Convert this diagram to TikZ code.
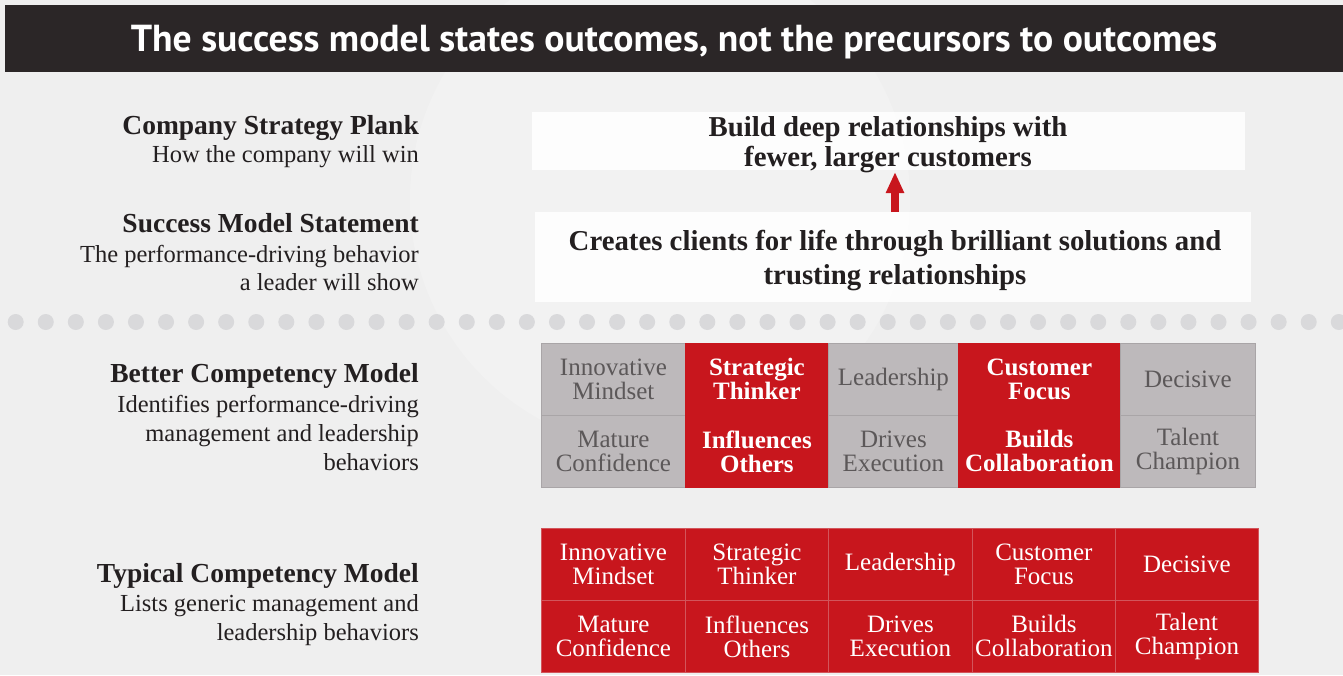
\documentclass[tikz,border=0pt]{standalone}
\usepackage{fontspec}
\setmainfont{Liberation Serif}
\newfontfamily\headfont{PT Sans}
\usetikzlibrary{arrows.meta}

\definecolor{barbg}{HTML}{2B2627}
\definecolor{pagebg}{HTML}{EFEFEF}
\definecolor{inktext}{HTML}{231F20}
\definecolor{dotgray}{HTML}{D9D9DB}
\definecolor{cellred}{HTML}{C8161D}
\definecolor{cellredline}{HTML}{D2555B}
\definecolor{cellgray}{HTML}{BDB9BB}
\definecolor{cellgrayline}{HTML}{A9A5A7}
\definecolor{celltext}{HTML}{5C5859}

\tikzset{
  lefthead/.style={anchor=base east, inner sep=0, text=inktext,
    font=\bfseries\fontsize{27.5}{30}\selectfont},
  leftsub/.style={anchor=base east, inner sep=0, text=inktext,
    font=\fontsize{24.5}{28}\selectfont},
  bigline/.style={anchor=base, inner sep=0, text=inktext,
    font=\bfseries\fontsize{28.8}{32}\selectfont},
  band/.style={fill=white, fill opacity=0.85, draw=none, inner sep=0, anchor=north west},
  cellbox/.style={anchor=north west, minimum height=72pt, inner sep=0, align=center,
    font=\fontsize{25}{24}\selectfont},
  graycell/.style={cellbox, fill=cellgray, draw=cellgrayline, line width=0.8pt, text=celltext},
  keycell/.style={cellbox, fill=cellred, draw=cellred, line width=0.8pt, text=white,
    font=\bfseries\fontsize{25}{24}\selectfont},
  redcell/.style={cellbox, fill=cellred, draw=cellredline, line width=0.8pt, text=white},
  dot/.style={circle, fill=dotgray, minimum size=16pt, inner sep=0},
}

\begin{document}
\begin{tikzpicture}[x=1pt, y=-1pt]
\useasboundingbox (0,0) rectangle (1343,675);
\fill[pagebg] (0,0) rectangle (1343,675);
\fill[white, opacity=0.2] (660,200) circle (250);

% title bar
\fill[barbg] (5,5) rectangle (1343,72);
\node[text=white, inner sep=0, font=\headfont\bfseries\fontsize{37.6}{42}\selectfont]
  (title) at (674,42) {The success model states outcomes, not the precursors to outcomes};

% white bands behind the two statements
\node[band, minimum width=713pt, minimum height=58pt] (pband) at (532,112) {};
\node[band, minimum width=716pt, minimum height=90pt] (sband) at (535,212) {};

% left column labels
\node[lefthead] (l1a) at (419,134) {Company Strategy Plank};
\node[leftsub]  (l1b) at (419,162) {How the company will win};
\node[lefthead] (l2a) at (419,232) {Success Model Statement};
\node[leftsub]  (l2b) at (419,262) {The performance-driving behavior};
\node[leftsub]  (l2c) at (419,290) {a leader will show};
\node[lefthead] (l3a) at (419,382) {Better Competency Model};
\node[leftsub]  (l3b) at (419,412) {Identifies performance-driving};
\node[leftsub]  (l3c) at (419,441) {management and leadership};
\node[leftsub]  (l3d) at (419,470) {behaviors};
\node[lefthead] (l4a) at (419,582) {Typical Competency Model};
\node[leftsub]  (l4b) at (419,611) {Lists generic management and};
\node[leftsub]  (l4c) at (419,640) {leadership behaviors};

% statements
\node[bigline] (plank1) at (888,136) {Build deep relationships with};
\node[bigline] (plank2) at (888,166) {fewer, larger customers};
\node[bigline] (stmt1) at (895,250) {Creates clients for life through brilliant solutions and};
\node[bigline] (stmt2) at (895,284) {trusting relationships};

% arrow from the statement up to the strategy plank
\coordinate (tip) at (895,172);
\draw[cellred, line width=8pt, -{Triangle[width=17pt, length=21pt]}]
  (sband.north -| tip) -- (tip);

% dotted divider
\foreach \i in {0,...,44}
  \node[dot] (dot\i) at ({15.7+30.07*\i},322) {};

% better competency model grid
\foreach \x/\w/\y/\s/\t [count=\n] in {
  541/144/343/graycell/{Innovative\\Mindset},
  685/143/343/keycell/{Strategic\\Thinker},
  828/130/343/graycell/{Leadership},
  958/162/343/keycell/{Customer\\Focus},
  1120/135/343/graycell/{Decisive},
  541/144/415/graycell/{Mature\\Confidence},
  685/143/415/keycell/{Influences\\Others},
  828/130/415/graycell/{Drives\\Execution},
  958/162/415/keycell/{Builds\\Collaboration},
  1120/135/415/graycell/{Talent\\Champion}}
  \node[\s, minimum width=\w pt] (b\n) at (\x,\y) {\t};

% typical competency model grid
\foreach \x/\w/\y/\t [count=\n] in {
  541/144/528/{Innovative\\Mindset},
  685/143/528/{Strategic\\Thinker},
  828/144/528/{Leadership},
  972/143/528/{Customer\\Focus},
  1115/143/528/{Decisive},
  541/144/600/{Mature\\Confidence},
  685/143/600/{Influences\\Others},
  828/144/600/{Drives\\Execution},
  972/143/600/{Builds\\Collaboration},
  1115/143/600/{Talent\\Champion}}
  \node[redcell, minimum width=\w pt] (t\n) at (\x,\y) {\t};
\end{tikzpicture}
\end{document}
